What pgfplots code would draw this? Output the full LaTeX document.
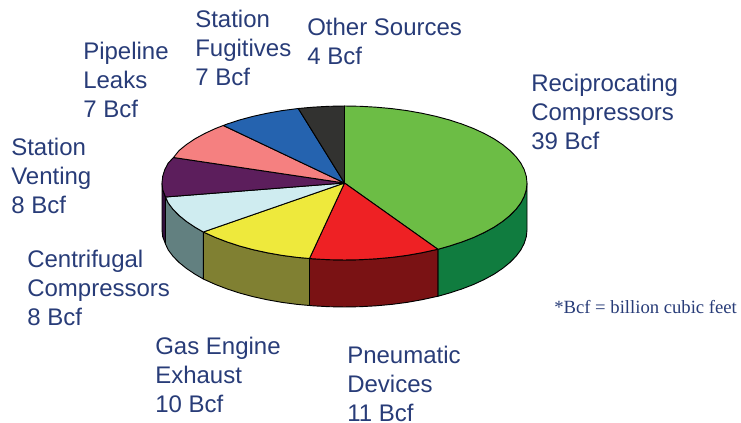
\documentclass[border=0pt]{standalone}
\usepackage{fontspec}
\setmainfont{Liberation Sans}
\newfontfamily\tms{Liberation Serif}
\usepackage{pgfplots}
\pgfplotsset{compat=1.18}
\definecolor{txt}{RGB}{40,60,120}
\definecolor{cgreen}{RGB}{108,189,69}
\definecolor{wgreen}{RGB}{16,124,63}
\definecolor{cred}{RGB}{238,33,36}
\definecolor{wred}{RGB}{122,18,20}
\definecolor{cyel}{RGB}{238,233,60}
\definecolor{wyel}{RGB}{128,128,50}
\definecolor{clb}{RGB}{207,236,240}
\definecolor{wlb}{RGB}{98,128,128}
\definecolor{cpur}{RGB}{92,30,92}
\definecolor{wpur}{RGB}{50,15,60}
\definecolor{cpink}{RGB}{245,128,128}
\definecolor{cblue}{RGB}{37,99,175}
\definecolor{cdark}{RGB}{50,50,48}
\tikzset{
  lab/.style={anchor=west, align=left, inner sep=0pt, text=txt,
              font=\fontsize{18}{21.75}\selectfont},
}
\pgfplotsset{
  wedge/.style={draw=black, line width=0.7pt, line join=round, mark=none, fill=#1},
}
\begin{document}
\begin{tikzpicture}
\begin{axis}[
  width=555.75pt, height=317.25pt, scale only axis,
  xmin=0, xmax=741, ymin=0, ymax=423, y dir=reverse,
  hide axis, clip=false,
]
\path (axis cs:0,0) rectangle (axis cs:741,423);
% side walls, depth 47 px
\addplot[wedge=wgreen] coordinates {
  (527,183)(526.3,189.7)(524.2,196.4)(520.8,202.9)(516,209.3)(509.9,215.5)(502.5,221.5)
  (494,227.2)(484.3,232.5)(473.5,237.5)(461.8,242)(449.2,246.1)(437.9,249.3)
  (437.9,296.3)(449.2,293.1)(461.8,289)(473.5,284.5)(484.3,279.5)(494,274.2)
  (502.5,268.5)(509.9,262.5)(516,256.3)(520.8,249.9)(524.2,243.4)(526.3,236.7)(527,230)
} -- cycle;
\addplot[wedge=wred] coordinates {
  (437.9,249.3)(435.8,249.7)(421.6,252.8)(406.9,255.4)(391.7,257.4)(376.2,258.8)
  (360.4,259.7)(344.5,260)(328.6,259.7)(312.8,258.8)(309.5,258.5)
  (309.5,305.5)(312.8,305.8)(328.6,306.7)(344.5,307)(360.4,306.7)(376.2,305.8)
  (391.7,304.4)(406.9,302.4)(421.6,299.8)(435.8,296.7)(437.9,296.3)
} -- cycle;
\addplot[wedge=wyel] coordinates {
  (309.5,258.5)(297.3,257.4)(282.1,255.4)(267.4,252.8)(253.2,249.7)(239.8,246.1)
  (227.2,242)(215.5,237.5)(203.3,232)
  (203.3,279)(215.5,284.5)(227.2,289)(239.8,293.1)(253.2,296.7)(267.4,299.8)
  (282.1,302.4)(297.3,304.4)(309.5,305.5)
} -- cycle;
\addplot[wedge=wlb] coordinates {
  (203.3,232)(195,227.2)(186.5,221.5)(179.1,215.5)(173,209.3)(168.2,202.9)(165.5,197)
  (165.5,244)(168.2,249.9)(173,256.3)(179.1,262.5)(186.5,268.5)(195,274.2)(203.3,279)
} -- cycle;
\addplot[wedge=wpur] coordinates {
  (165.5,197)(162.7,189.7)(162,183)(162,230)(162.7,236.7)(165.5,244)
} -- cycle;
% top face, 39 11 10 8 8 7 7 4 Bcf clockwise from twelve o'clock
\addplot[wedge=cgreen] coordinates {
  (344.5,183)(344.5,106)(360.4,106.3)(376.2,107.2)(391.7,108.6)(406.9,110.6)(421.6,113.2)
  (435.8,116.3)(449.2,119.9)(461.8,124)(473.5,128.5)(484.3,133.5)(494,138.8)(502.5,144.5)
  (509.9,150.5)(516,156.7)(520.8,163.1)(524.2,169.6)(526.3,176.3)(527,183)
  (526.3,189.7)(524.2,196.4)(520.8,202.9)(516,209.3)(509.9,215.5)(502.5,221.5)
  (494,227.2)(484.3,232.5)(473.5,237.5)(461.8,242)(449.2,246.1)(437.9,249.3)
} -- cycle;
\addplot[wedge=cred] coordinates {
  (344.5,183)(437.9,249.3)(435.8,249.7)(421.6,252.8)(406.9,255.4)(391.7,257.4)(376.2,258.8)
  (360.4,259.7)(344.5,260)(328.6,259.7)(312.8,258.8)(309.5,258.5)
} -- cycle;
\addplot[wedge=cyel] coordinates {
  (344.5,183)(309.5,258.5)(297.3,257.4)(282.1,255.4)(267.4,252.8)(253.2,249.7)(239.8,246.1)
  (227.2,242)(215.5,237.5)(203.3,232)
} -- cycle;
\addplot[wedge=clb] coordinates {
  (344.5,183)(203.3,232)(195,227.2)(186.5,221.5)(179.1,215.5)(173,209.3)(168.2,202.9)(165.5,197)
} -- cycle;
\addplot[wedge=cpur] coordinates {
  (344.5,183)(165.5,197)(162.7,189.7)(162,183)(162.7,176.3)(164.8,169.6)(168.2,163.1)(173.5,157.5)
} -- cycle;
\addplot[wedge=cpink] coordinates {
  (344.5,183)(173.5,157.5)(179.1,150.5)(186.5,144.5)(195,138.8)(204.7,133.5)(215.5,128.5)(223.3,125.5)
} -- cycle;
\addplot[wedge=cblue] coordinates {
  (344.5,183)(223.3,125.5)(227.2,124)(239.8,119.9)(253.2,116.3)(267.4,113.2)(282.1,110.6)(298.3,108.5)
} -- cycle;
\addplot[wedge=cdark] coordinates {
  (344.5,183)(298.3,108.5)(312.8,107.2)(328.6,106.3)(344.5,106)
} -- cycle;
% labels
\node[lab] at (axis cs:307,41) {Other Sources\\4 Bcf};
\node[lab] at (axis cs:195,48) {Station\\Fugitives\\7 Bcf};
\node[lab] at (axis cs:83,80) {Pipeline\\Leaks\\7 Bcf};
\node[lab] at (axis cs:531,112) {Reciprocating\\Compressors\\39 Bcf};
\node[lab] at (axis cs:11,176) {Station\\Venting\\8 Bcf};
\node[lab] at (axis cs:27,288) {Centrifugal\\Compressors\\8 Bcf};
\node[lab] at (axis cs:155,375) {Gas Engine\\Exhaust\\10 Bcf};
\node[lab] at (axis cs:347,383.5) {Pneumatic\\Devices\\11 Bcf};
\node[anchor=west, inner sep=0pt, text=txt, font=\tms\fontsize{14}{16}\selectfont]
  at (axis cs:554,307) {*Bcf = billion cubic feet};
\end{axis}
\end{tikzpicture}
\end{document}
